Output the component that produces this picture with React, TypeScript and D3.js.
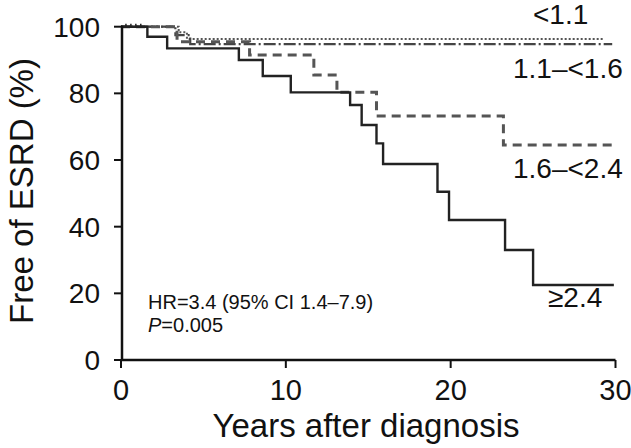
import React from 'react'
import * as d3 from 'd3'

// Kaplan-Meier step data (years, % free of ESRD)
const lowTimes = [0, 3.5, 4.0, 29.3]
const lowSurv = [100, 98.3, 96.3, 96.3]

const midLowTimes = [0, 3.3, 4.2, 29.8]
const midLowSurv = [100, 97.5, 94.8, 94.8]

const midHighTimes = [0, 3.4, 7.8, 11.7, 13.1, 15.5, 23.2, 29.9]
const midHighSurv = [100, 95.5, 91.5, 85.5, 80.3, 73.2, 64.5, 64.5]

const highTimes = [0, 1.6, 2.8, 7.15, 8.6, 10.3, 13.9, 14.6, 15.5, 15.9, 19.2, 19.9, 23.3, 25.0, 29.9]
const highSurv = [100, 97, 93.5, 90, 85.2, 80.3, 76.5, 70.5, 65, 58.8, 50.5, 42, 33, 22.5, 22.5]

// censor marks at the start of follow-up
const censorTimes = [0.3, 0.6, 0.9, 1.2]

const xTicks = [0, 10, 20, 30]
const yTicks = [0, 20, 40, 60, 80, 100]

const seriesLabels = ['<1.1', '1.1\u2013<1.6', '1.6\u2013<2.4', '\u22652.4']

const font = '"Liberation Sans", Arial, Helvetica, sans-serif'

export default function App() {
  const width = 631
  const height = 448
  const margin = { top: 26.7, right: 15, bottom: 88, left: 121 }

  const x = d3.scaleLinear().domain([0, 30]).range([margin.left, width - margin.right - 0.5])
  const y = d3.scaleLinear().domain([0, 100]).range([height - margin.bottom, margin.top])

  const line = d3.line<[number, number]>()
    .x(d => x(d[0]))
    .y(d => y(d[1]))
    .curve(d3.curveStepAfter)

  const pts = (t: number[], s: number[]) => t.map((v, i) => [v, s[i]] as [number, number])

  const series = [
    { pts: pts(lowTimes, lowSurv), dash: '2,2', color: '#555', w: 2 },
    { pts: pts(midLowTimes, midLowSurv), dash: '12,3,2,3', color: '#444', w: 2.2 },
    { pts: pts(midHighTimes, midHighSurv), dash: '9,6', color: '#555', w: 3 },
    { pts: pts(highTimes, highSurv), dash: 'none', color: '#222', w: 2.4 },
  ]

  const x0 = x(0)
  const y0 = y(0)

  return (
    <svg width={width} height={height} style={{ position: 'absolute', left: 0, top: 0, background: '#fff' }}>
      {/* curves */}
      {series.map((s, i) => (
        <path key={i} d={line(s.pts) || ''} fill="none" stroke={s.color}
          strokeWidth={s.w} strokeDasharray={s.dash} />
      ))}
      {censorTimes.map((t, i) => (
        <line key={i} x1={x(t)} x2={x(t)} y1={y(100) - 3} y2={y(100) + 1} stroke="#222" strokeWidth={1.5} />
      ))}

      {/* axes */}
      <line x1={x0} x2={x(30)} y1={y0} y2={y0} stroke="#111" strokeWidth={2.5} />
      <line x1={x0 + 1} x2={x0 + 1} y1={y(100) - 1} y2={y0} stroke="#111" strokeWidth={2.5} />
      {xTicks.map(t => (
        <g key={t}>
          <line x1={x(t)} x2={x(t)} y1={y0} y2={y0 + 8} stroke="#111" strokeWidth={2} />
          <text x={x(t)} y={y0 + 40} textAnchor="middle" fontFamily={font} fontSize={29} fill="#111">{t}</text>
        </g>
      ))}
      {yTicks.map(t => (
        <g key={t}>
          <line x1={x0 + 1} x2={x0 - 7} y1={y(t)} y2={y(t)} stroke="#111" strokeWidth={2} />
          <text x={x0 - 21} y={y(t)} dy="0.36em" textAnchor="end" fontFamily={font} fontSize={28} fill="#111">{t}</text>
        </g>
      ))}

      {/* axis titles */}
      <text x={366} y={437} textAnchor="middle" fontFamily={font} fontSize={33} fill="#111">Years after diagnosis</text>
      <text transform="translate(33,191) rotate(-90)" textAnchor="middle" fontFamily={font} fontSize={33} fill="#111">Free of ESRD (%)</text>

      {/* series labels */}
      <text x={533} y={24} fontFamily={font} fontSize={28} fill="#111">{seriesLabels[0]}</text>
      <text x={513} y={78} fontFamily={font} fontSize={28} fill="#111">{seriesLabels[1]}</text>
      <text x={513} y={178} fontFamily={font} fontSize={28} fill="#111">{seriesLabels[2]}</text>
      <text x={548} y={307} fontFamily={font} fontSize={28} fill="#111">{seriesLabels[3]}</text>

      {/* stats */}
      <text x={148} y={309} fontFamily={font} fontSize={20} fill="#111">HR=3.4 (95% CI 1.4–7.9)</text>
      <text x={148} y={332} fontFamily={font} fontSize={20} fill="#111">
        <tspan fontStyle="italic">P</tspan>=0.005
      </text>
    </svg>
  )
}
